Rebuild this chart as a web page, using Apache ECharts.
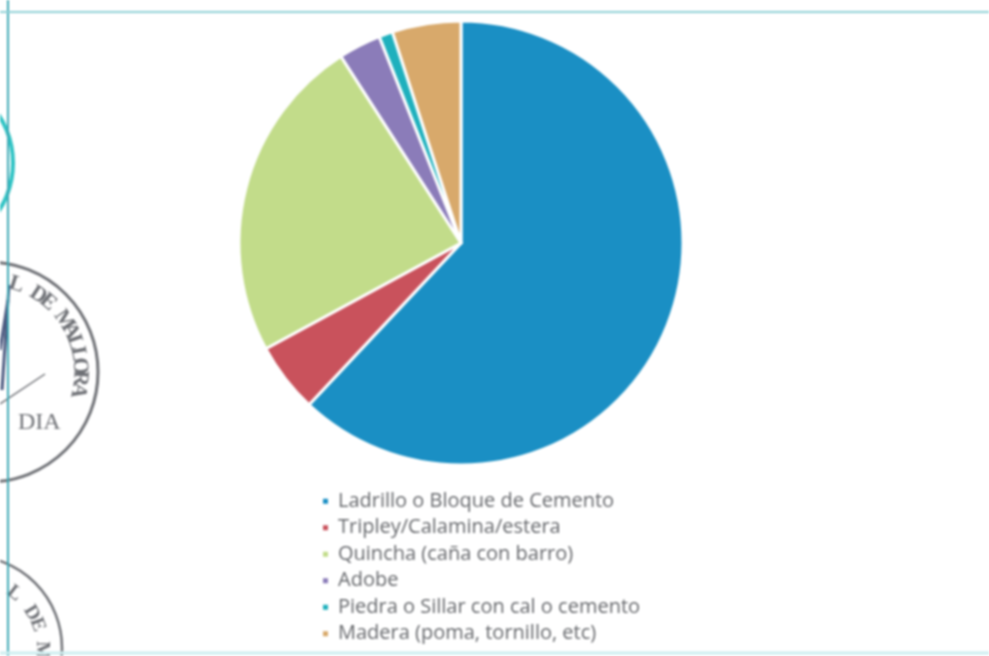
<!DOCTYPE html>
<html><head><meta charset="utf-8">
<style>html,body{margin:0;padding:0;background:#fff}#c{width:989px;height:656px;filter:blur(1px)}</style>
<script src="https://cdn.jsdelivr.net/npm/echarts@6/dist/echarts.min.js"></script>
</head><body><div id="c"></div>
<script>
const categories = ['Ladrillo o Bloque de Cemento','Tripley/Calamina/estera','Quincha (caña con barro)','Adobe','Piedra o Sillar con cal o cemento','Madera (poma, tornillo, etc)'];
const values = [62, 5.1, 23.8, 3.1, 1, 5];
const colors = ['#1a8fc4','#c9525c','#c2dc8a','#8b7cb9','#1fb0bd','#d8a96b'];
const stampInk = '#6f7176';

function arcText(str, cx, cy, r, startDeg, stepDeg, size){
  return str.split('').map((ch,i)=>{
    const a = (startDeg + i*stepDeg) * Math.PI/180;
    return {type:'text', x:cx+r*Math.sin(a), y:cy-r*Math.cos(a), rotation:-a,
      style:{text:ch, fill:stampInk, font:'bold '+size+'px "Liberation Serif"', textAlign:'center', textVerticalAlign:'middle'}, z:1};
  });
}
function ring(cx,cy,r,w,color){
  return {type:'circle', shape:{cx,cy,r}, style:{fill:'none', stroke:color, lineWidth:w}, z:1};
}
const chart = echarts.init(document.getElementById('c'));
chart.setOption({
  animation:false,
  backgroundColor:'#fff',
  legend:{
    orient:'vertical', left:316, top:483, itemGap:0, itemWidth:7, itemHeight:7,
    icon:'rect', selectedMode:false, data:categories,
    textStyle:{fontFamily:'Open Sans', fontSize:20, color:'#66686c', lineHeight:26.5, padding:[0,0,0,4]}
  },
  graphic:{elements:[
    ring(-12,372,110,3,stampInk),
    ring(-30,648,92,2.5,stampInk),
    ring(-75,163,88,4,'#2fc3c4'),
    ...arcText('L DE MALLORA',-12,372,92,18,7.6,22),
    ...arcText('L DE MA',-30,650,72,38,10.5,20),
    {type:'text', x:18, y:411, style:{text:'DIA', fill:stampInk, font:'24px "Liberation Serif"'}, z:1},
    {type:'line', shape:{x1:0,y1:404,x2:45,y2:374}, style:{stroke:stampInk,lineWidth:1.5}, z:1},
    {type:'line', shape:{x1:2,y1:390,x2:9,y2:285}, style:{stroke:'#4c5a80',lineWidth:3}, z:1},
    {type:'line', shape:{x1:0,y1:350,x2:8,y2:300}, style:{stroke:'#4c5a80',lineWidth:3}, z:1},
    {type:'line', shape:{x1:8,y1:0,x2:8,y2:656}, style:{stroke:'#3fa9b5',lineWidth:2}, z:2},
    {type:'line', shape:{x1:0,y1:12,x2:989,y2:12}, style:{stroke:'#8fd0d6',lineWidth:2}, z:2},
    {type:'line', shape:{x1:0,y1:653,x2:989,y2:653}, style:{stroke:'#cdeef0',lineWidth:3}, z:2}
  ]},
  series:[{
    type:'pie', center:[461,243], radius:[0,222], startAngle:90, clockwise:true,
    label:{show:false}, labelLine:{show:false}, silent:true,
    itemStyle:{borderColor:'#fff', borderWidth:3},
    data:categories.map((name,i)=>({name, value:values[i], itemStyle:{color:colors[i]}}))
  }]
});
</script></body></html>
